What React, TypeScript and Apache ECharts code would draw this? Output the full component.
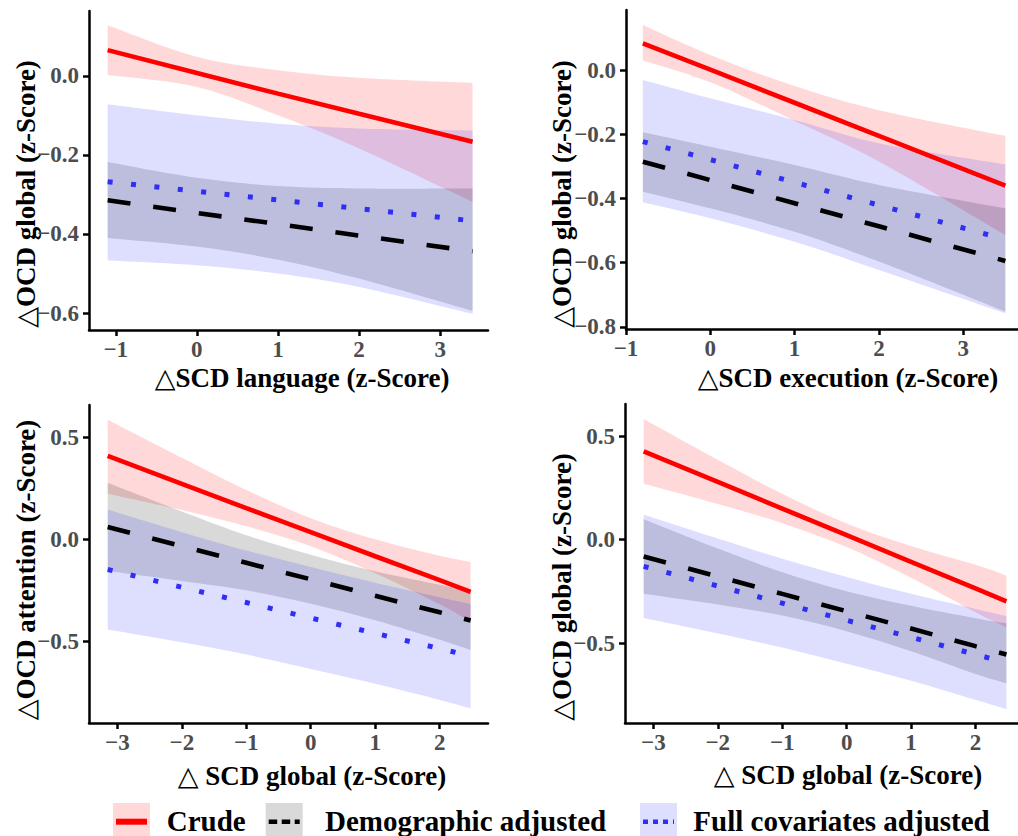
import React, { useEffect, useRef } from "react";
import * as echarts from "echarts";

const FONT = "Liberation Serif, Times New Roman, DejaVu Serif, serif";

// ---------- Panel A: SCD language -> OCD global ----------
const aX = [-1.1, 0, 1, 2, 3.4];
const aCrudeFit = [0.065, 0.007, -0.045, -0.096, -0.167];
const aCrudeLo = [0.002, -0.028, -0.1, -0.184, -0.319];
const aCrudeHi = [0.128, 0.048, 0.014, -0.005, -0.018];
const aDemoFit = [-0.315, -0.347, -0.375, -0.404, -0.444];
const aDemoLo = [-0.41, -0.432, -0.465, -0.513, -0.595];
const aDemoHi = [-0.218, -0.258, -0.279, -0.285, -0.285];
const aFullFit = [-0.268, -0.292, -0.314, -0.336, -0.367];
const aFullLo = [-0.467, -0.479, -0.5, -0.534, -0.602];
const aFullHi = [-0.072, -0.1, -0.121, -0.133, -0.138];
const aXTicks = [-1, 0, 1, 2, 3];
const aYTicks = [-0.6, -0.4, -0.2, 0];

// ---------- Panel B: SCD execution -> OCD global ----------
const bX = [-0.8, 0, 1, 2, 3.5];
const bCrudeFit = [0.083, 0.001, -0.102, -0.205, -0.36];
const bCrudeLo = [0.03, -0.038, -0.158, -0.285, -0.514];
const bCrudeHi = [0.14, 0.047, -0.05, -0.125, -0.205];
const bDemoFit = [-0.286, -0.343, -0.415, -0.487, -0.595];
const bDemoLo = [-0.379, -0.431, -0.504, -0.597, -0.753];
const bDemoHi = [-0.194, -0.239, -0.296, -0.358, -0.431];
const bFullFit = [-0.223, -0.279, -0.35, -0.421, -0.528];
const bFullLo = [-0.412, -0.462, -0.535, -0.623, -0.758];
const bFullHi = [-0.031, -0.088, -0.156, -0.228, -0.294];
const bXTicks = [-1, 0, 1, 2, 3];
const bYTicks = [-0.8, -0.6, -0.4, -0.2, 0];

// ---------- Panel C: SCD global -> OCD attention ----------
const cX = [-3.15, -2, -1, 0, 1, 2, 2.48];
const cCrudeFit = [0.41, 0.273, 0.154, 0.036, -0.082, -0.199, -0.257];
const cCrudeLo = [0.225, 0.145, 0.065, -0.033, -0.165, -0.318, -0.404];
const cCrudeHi = [0.588, 0.401, 0.243, 0.105, 0.001, -0.08, -0.11];
const cDemoFit = [0.062, -0.033, -0.114, -0.195, -0.276, -0.357, -0.397];
const cDemoLo = [-0.154, -0.203, -0.249, -0.315, -0.396, -0.492, -0.542];
const cDemoHi = [0.278, 0.137, 0.021, -0.075, -0.156, -0.222, -0.252];
const cFullFit = [-0.147, -0.234, -0.309, -0.385, -0.46, -0.535, -0.572];
const cFullLo = [-0.441, -0.504, -0.564, -0.635, -0.708, -0.787, -0.828];
const cFullHi = [0.147, 0.036, -0.054, -0.135, -0.212, -0.283, -0.316];
const cXTicks = [-3, -2, -1, 0, 1, 2];
const cYTicks = [-0.5, 0, 0.5];

// ---------- Panel D: SCD global -> OCD global ----------
const dX = [-3.15, -2, -1, 0, 1, 2, 2.48];
const dCrudeFit = [0.428, 0.28, 0.151, 0.022, -0.107, -0.236, -0.298];
const dCrudeLo = [0.271, 0.173, 0.08, -0.035, -0.184, -0.351, -0.423];
const dCrudeHi = [0.584, 0.387, 0.222, 0.079, -0.03, -0.121, -0.173];
const dDemoFit = [-0.081, -0.178, -0.262, -0.346, -0.43, -0.515, -0.555];
const dDemoLo = [-0.261, -0.313, -0.367, -0.443, -0.54, -0.65, -0.695];
const dDemoHi = [0.099, -0.043, -0.157, -0.249, -0.32, -0.38, -0.405];
const dFullFit = [-0.129, -0.224, -0.307, -0.39, -0.472, -0.555, -0.595];
const dFullLo = [-0.379, -0.454, -0.522, -0.6, -0.682, -0.775, -0.821];
const dFullHi = [0.121, 0.006, -0.092, -0.18, -0.262, -0.335, -0.369];
const dXTicks = [-3, -2, -1, 0, 1, 2];
const dYTicks = [-0.5, 0, 0.5];

const legendLabels = ["Crude", "Demographic adjusted", "Full covariates adjusted"];

const RED = "#FF0000";
const BLACK = "#000000";
const BLUE = "#2E2EF5";
const RED_FILL = "rgba(255,0,0,0.15)";
const GRAY_FILL = "rgba(0,0,0,0.15)";
const BLUE_FILL = "rgba(0,0,255,0.13)";

function spline(ctx: any, pts: number[][], moveFirst: boolean) {
  const n = pts.length;
  if (!n) return;
  if (moveFirst) ctx.moveTo(pts[0][0], pts[0][1]);
  else ctx.lineTo(pts[0][0], pts[0][1]);
  for (let i = 0; i < n - 1; i++) {
    const p0 = pts[Math.max(i - 1, 0)];
    const p1 = pts[i];
    const p2 = pts[i + 1];
    const p3 = pts[Math.min(i + 2, n - 1)];
    const c1x = p1[0] + (p2[0] - p0[0]) / 6;
    const c1y = p1[1] + (p2[1] - p0[1]) / 6;
    const c2x = p2[0] - (p3[0] - p1[0]) / 6;
    const c2y = p2[1] - (p3[1] - p1[1]) / 6;
    ctx.bezierCurveTo(c1x, c1y, c2x, c2y, p2[0], p2[1]);
  }
}

let registered = false;
function registerRibbon() {
  if (registered) return;
  registered = true;
  const Ribbon = (echarts as any).graphic.extendShape({
    type: "ribbon",
    shape: { upper: [], lower: [] },
    buildPath(ctx: any, shape: any) {
      spline(ctx, shape.upper, true);
      spline(ctx, shape.lower.slice().reverse(), false);
      ctx.closePath();
    },
  });
  (echarts as any).graphic.registerShape("ribbon", Ribbon);
}

function ribbon(gi: number, xs: number[], lo: number[], hi: number[], fill: string) {
  return {
    type: "custom",
    xAxisIndex: gi,
    yAxisIndex: gi,
    silent: true,
    data: xs.map((x, i) => [x, lo[i], hi[i]]),
    encode: { x: 0, y: [1, 2] },
    renderItem: (params: any, api: any) => {
      if (params.dataIndex !== 0) return null;
      const upper = xs.map((x, i) => api.coord([x, hi[i]]));
      const lower = xs.map((x, i) => api.coord([x, lo[i]]));
      return { type: "ribbon", shape: { upper, lower }, style: { fill, stroke: null } };
    },
  };
}

function fitLine(gi: number, xs: number[], ys: number[], color: string, width: number, dash: any) {
  return {
    type: "line",
    xAxisIndex: gi,
    yAxisIndex: gi,
    silent: true,
    symbol: "none",
    data: xs.map((x, i) => [x, ys[i]]),
    lineStyle: { color, width, type: dash, cap: "butt" },
  };
}

function panelSeries(gi: number, xs: number[], d: any) {
  return [
    ribbon(gi, xs, d.crLo, d.crHi, RED_FILL),
    ribbon(gi, xs, d.deLo, d.deHi, GRAY_FILL),
    ribbon(gi, xs, d.fuLo, d.fuHi, BLUE_FILL),
    fitLine(gi, xs, d.fuFit, BLUE, 5, [5, 18.5]),
    fitLine(gi, xs, d.deFit, BLACK, 4.6, [23, 23]),
    fitLine(gi, xs, d.crFit, RED, 4.6, "solid"),
  ];
}

const fmt = (dec: number) => (v: number) => {
  const r = Math.round(v * 1000) / 1000;
  return (r < 0 ? "\u2212" : "") + Math.abs(r).toFixed(dec);
};

const labelStyle = {
  color: "#4D4D4D",
  fontFamily: FONT,
  fontWeight: "bold",
  fontSize: 23,
};

function mkX(gi: number, min: number, max: number, ticks: number[]) {
  return {
    type: "value",
    gridIndex: gi,
    min,
    max,
    splitLine: { show: false },
    axisLine: { show: true, onZero: false, lineStyle: { color: "#000", width: 2.5 } },
    axisTick: { show: true, length: 6, customValues: ticks, lineStyle: { color: "#000", width: 2.5 } },
    axisLabel: { ...labelStyle, margin: 8, customValues: ticks, formatter: fmt(0) },
  };
}

function mkY(gi: number, min: number, max: number, ticks: number[]) {
  return {
    type: "value",
    gridIndex: gi,
    min,
    max,
    splitLine: { show: false },
    axisLine: { show: true, onZero: false, lineStyle: { color: "#000", width: 2.5 } },
    axisTick: { show: true, length: 6, customValues: ticks, lineStyle: { color: "#000", width: 2.5 } },
    axisLabel: { ...labelStyle, margin: 10, customValues: ticks, formatter: fmt(1) },
  };
}

function title(text: string, x: number, y: number, vertical: boolean) {
  return {
    type: "text",
    x,
    y,
    rotation: vertical ? Math.PI / 2 : 0,
    silent: true,
    style: {
      text,
      fontSize: 27,
      fontWeight: "bold",
      fontFamily: FONT,
      fill: "#000",
      textAlign: "center",
      textVerticalAlign: "middle",
      align: "center",
      verticalAlign: "middle",
    },
  };
}

function legendItem(bx: number, tx: number, fill: string, color: string, width: number, dash: any, label: string) {
  return [
    { type: "rect", silent: true, shape: { x: bx, y: 803, width: 37, height: 40 }, style: { fill } },
    {
      type: "line",
      silent: true,
      shape: { x1: bx + 3, y1: 821.7, x2: bx + 34, y2: 821.7 },
      style: { stroke: color, lineWidth: width, lineDash: dash, lineCap: "butt" },
    },
    {
      type: "text",
      silent: true,
      x: tx,
      y: 820.5,
      style: {
        text: label,
        fontSize: 29,
        fontWeight: "bold",
        fontFamily: FONT,
        fill: "#000",
        textAlign: "left",
        textVerticalAlign: "middle",
        align: "left",
        verticalAlign: "middle",
      },
    },
  ];
}

export default function App() {
  const ref = useRef<HTMLDivElement>(null);

  useEffect(() => {
    document.body.style.margin = "0";
    registerRibbon();
    if (!ref.current) return;
    const chart = echarts.init(ref.current, null, { renderer: "svg" });

    const option: any = {
      animation: false,
      backgroundColor: "#ffffff",
      grid: [
        { left: 89, top: 11, width: 399, height: 319 },
        { left: 626, top: 10, width: 392, height: 319 },
        { left: 89, top: 405, width: 399, height: 318 },
        { left: 625, top: 404, width: 393, height: 319 },
      ],
      xAxis: [
        mkX(0, -1.33, 3.59, aXTicks),
        mkX(1, -1, 3.65, bXTicks),
        mkX(2, -3.44, 2.75, cXTicks),
        mkX(3, -3.44, 2.66, dXTicks),
      ],
      yAxis: [
        mkY(0, -0.643, 0.164, aYTicks),
        mkY(1, -0.807, 0.187, bYTicks),
        mkY(2, -0.9, 0.66, cYTicks),
        mkY(3, -0.887, 0.657, dYTicks),
      ],
      series: [
        ...panelSeries(0, aX, {
          crFit: aCrudeFit, crLo: aCrudeLo, crHi: aCrudeHi,
          deFit: aDemoFit, deLo: aDemoLo, deHi: aDemoHi,
          fuFit: aFullFit, fuLo: aFullLo, fuHi: aFullHi,
        }),
        ...panelSeries(1, bX, {
          crFit: bCrudeFit, crLo: bCrudeLo, crHi: bCrudeHi,
          deFit: bDemoFit, deLo: bDemoLo, deHi: bDemoHi,
          fuFit: bFullFit, fuLo: bFullLo, fuHi: bFullHi,
        }),
        ...panelSeries(2, cX, {
          crFit: cCrudeFit, crLo: cCrudeLo, crHi: cCrudeHi,
          deFit: cDemoFit, deLo: cDemoLo, deHi: cDemoHi,
          fuFit: cFullFit, fuLo: cFullLo, fuHi: cFullHi,
        }),
        ...panelSeries(3, dX, {
          crFit: dCrudeFit, crLo: dCrudeLo, crHi: dCrudeHi,
          deFit: dDemoFit, deLo: dDemoLo, deHi: dDemoHi,
          fuFit: dFullFit, fuLo: dFullLo, fuHi: dFullHi,
        }),
      ],
      graphic: [
        title("\u25B3SCD language (z-Score)", 302, 378, false),
        title("\u25B3SCD execution (z-Score)", 848, 378, false),
        title("\u25B3 SCD global (z-Score)", 312, 776, false),
        title("\u25B3 SCD global (z-Score)", 848, 775, false),
        title("\u25B3OCD global (z-Score)", 26, 194, true),
        title("\u25B3OCD global (z-Score)", 561.5, 194, true),
        title("\u25B3OCD attention (z-Score)", 26, 570, true),
        title("\u25B3OCD global (z-Score)", 561.5, 587, true),
        ...legendItem(113, 166.7, RED_FILL, RED, 6, null, legendLabels[0]),
        ...legendItem(265.7, 325, GRAY_FILL, BLACK, 4.5, [8.5, 4.5], legendLabels[1]),
        ...legendItem(640, 693.3, BLUE_FILL, BLUE, 4.5, [5, 5], legendLabels[2]),
      ],
    };

    chart.setOption(option);
    return () => chart.dispose();
  }, []);

  return <div ref={ref} style={{ width: 1018, height: 836 }} />;
}
